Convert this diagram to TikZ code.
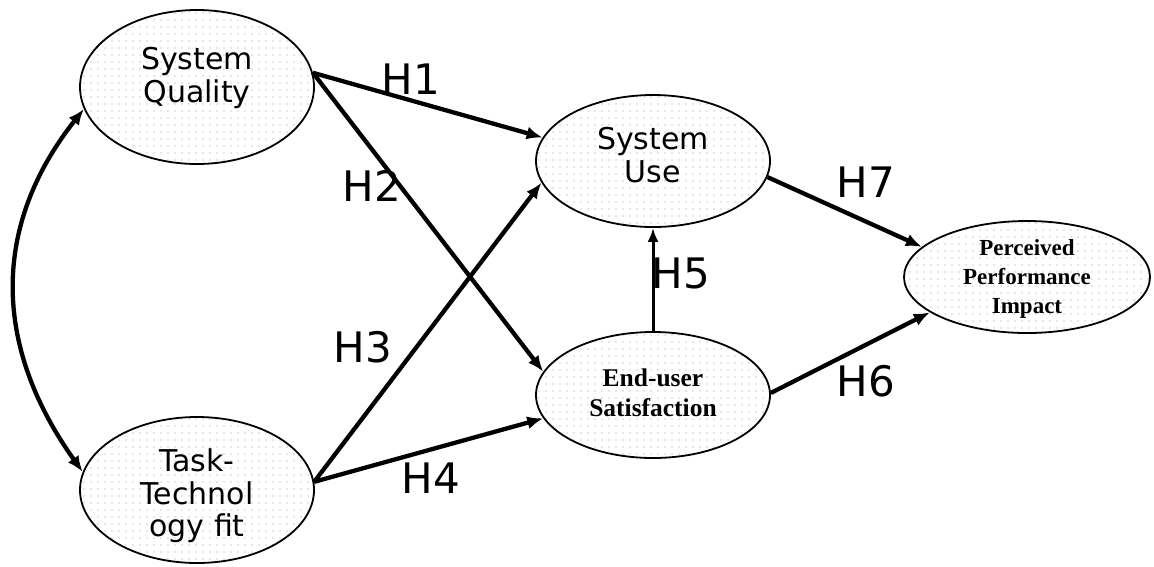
\documentclass[tikz,border=0pt]{standalone}
\usepackage{fontspec}
\newfontfamily\dv{DejaVu Sans}
\newfontfamily\ls{Liberation Serif}
\usetikzlibrary{shapes.geometric,arrows.meta,patterns.meta}
\begin{document}
\begin{tikzpicture}[x=1pt,y=-1pt,
  construct/.style={ellipse,draw=black,line width=1.8pt,inner sep=0pt,
    preaction={fill=white},
    pattern={Dots[radius=0.6pt,distance=7pt]},pattern color=black!40},
  sanstext/.style={align=center,inner sep=0pt,font=\dv\fontsize{30}{32.5}\selectfont},
  seriftext/.style={align=center,inner sep=0pt,font=\ls\bfseries\fontsize{25.5}{30}\selectfont},
  path/.style={line width=4.3pt,-{Latex[length=16pt,width=13pt]}},
  thinpath/.style={line width=3pt,-{Latex[length=14pt,width=11pt]}},
  hlabel/.style={font=\dv\fontsize{42}{44}\selectfont,inner sep=0pt}]
\useasboundingbox (0,0) rectangle (1154,566);
\node[construct,minimum width=234pt,minimum height=154pt] (sq) at (197,87) {};
\node[construct,minimum width=234pt,minimum height=146pt] (ttf) at (197,490) {};
\node[construct,minimum width=234pt,minimum height=132pt] (su) at (653,161) {};
\node[construct,minimum width=234pt,minimum height=126pt] (eus) at (653,395) {};
\node[construct,minimum width=246pt,minimum height=112pt] (ppi) at (1027,277) {};

\node[sanstext] (sqt) at ([yshift=9pt]sq.center) {System\\Quality};
\node[sanstext] (ttft) at ([yshift=-6pt]ttf.center) {Task-\\Technol\\ogy fit};
\node[sanstext] (sut) at ([yshift=6pt]su.center) {System\\Use};
\node[seriftext] (eust) at ([yshift=2pt]eus.center) {End-user\\Satisfaction};
\node[align=center,inner sep=0pt,font=\ls\bfseries\fontsize{23}{29}\selectfont] (ppit) at ([yshift=-2pt]ppi.center) {Perceived\\Performance\\Impact};

\draw[line width=4.3pt,{Latex[length=16pt,width=13pt]}-{Latex[length=16pt,width=13pt]}]
  (sq.191) .. controls (-8,225) and (-8,345) .. (ttf.171);
\draw[path] (sq.7) -- (su.168);
\draw[path] (sq.7) -- (eus.168);
\draw[path] (ttf.4) -- (su.191.5);
\draw[path] (ttf.4) -- (eus.192);
\draw[thinpath] (eus.north) -- (su.south);
\draw[path] (su.-8) -- (ppi.164);
\draw[path] (eus.1) -- (ppi.200.7);

\node[hlabel] (h1) at (411,79) {H1};
\node[hlabel] (h2) at (372,186) {H2};
\node[hlabel] (h3) at (363,347) {H3};
\node[hlabel] (h4) at (431,478) {H4};
\node[hlabel] (h5) at (681,273) {H5};
\node[hlabel] (h6) at (866,381) {H6};
\node[hlabel] (h7) at (866,182) {H7};
\end{tikzpicture}
\end{document}
